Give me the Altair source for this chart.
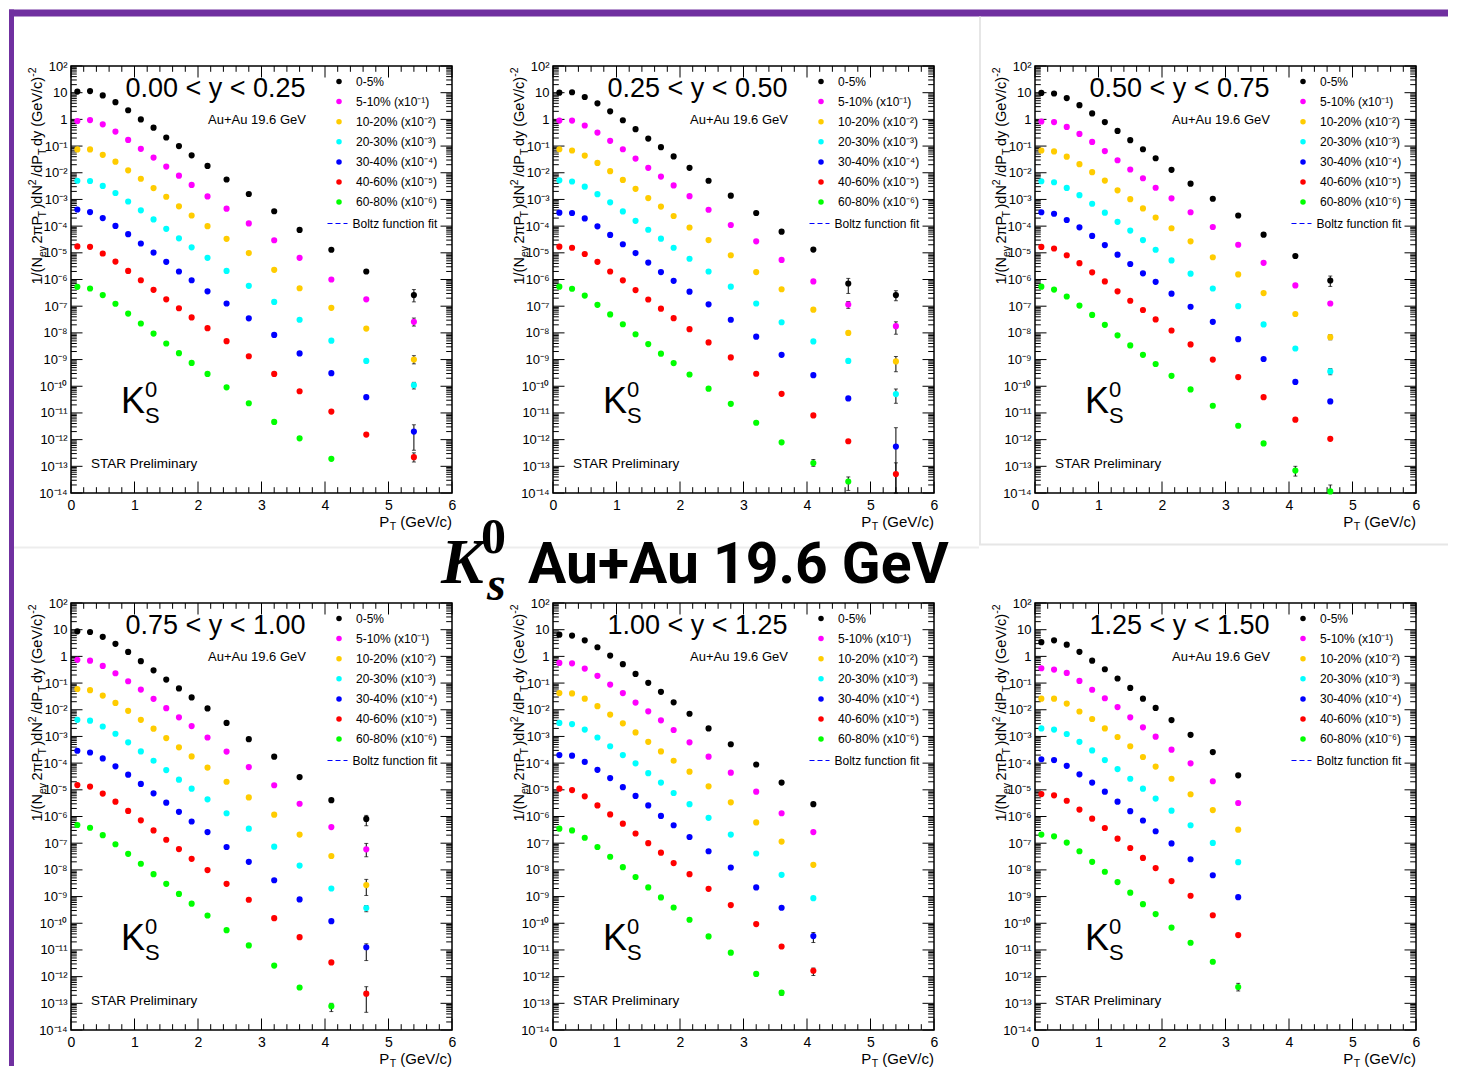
import altair as alt
import pandas as pd

SANS = "Liberation Sans"
SERIF = "Liberation Serif"
TITLE_FONT = "Roboto"
PURPLE = "#7030a0"

# ---------------- data ----------------
PT = [0.1, 0.3, 0.5, 0.7, 0.9, 1.1, 1.3, 1.5, 1.7, 1.9, 2.15, 2.45, 2.8, 3.2, 3.6, 4.1, 4.65, 5.4]
CENT = ["0-5%", "5-10% (x10⁻¹)", "10-20% (x10⁻²)", "20-30% (x10⁻³)",
        "30-40% (x10⁻⁴)", "40-60% (x10⁻⁵)", "60-80% (x10⁻⁶)"]
COLORS = ["#000000", "#ff00ff", "#ffcc00", "#00ffff", "#0000ff", "#ff0000", "#00ff00"]
RAPIDITY = ["0.00 < y < 0.25", "0.25 < y < 0.50", "0.50 < y < 0.75",
            "0.75 < y < 1.00", "1.00 < y < 1.25", "1.25 < y < 1.50"]

# 0.00 < y < 0.25
Y1_0_5 = [11, 11.5, 7.9, 4.4, 2.2, 1.0, 0.49, 0.21, 0.10, 0.045, 0.018, 5.6e-3, 1.6e-3, 3.6e-4, 7.2e-5, 1.3e-5, 2.0e-6, 2.6e-7]
Y1_5_10 = [0.87, 0.94, 0.65, 0.35, 0.17, 0.079, 0.037, 0.017, 7.8e-3, 3.5e-3, 1.3e-3, 4.5e-4, 1.26e-4, 2.95e-5, 6.5e-6, 1.0e-6, 1.8e-7, 2.6e-8]
Y1_10_20 = [0.075, 0.075, 0.047, 0.026, 0.0123, 5.96e-3, 2.66e-3, 1.26e-3, 5.5e-4, 2.5e-4, 1.0e-4, 3.35e-5, 9.8e-6, 2.3e-6, 4.7e-7, 8.7e-8, 1.45e-8, 1.0e-9]
Y1_20_30 = [5.0e-3, 4.9e-3, 3.2e-3, 1.74e-3, 8.4e-4, 3.9e-4, 1.78e-4, 7.9e-5, 3.5e-5, 1.6e-5, 6.5e-6, 2.1e-6, 5.8e-7, 1.45e-7, 3.1e-8, 5.1e-9, 8.9e-10, 1.1e-10]
Y1_30_40 = [4.2e-4, 3.35e-4, 2.0e-4, 1.02e-4, 5.0e-5, 2.24e-5, 1.02e-5, 4.6e-6, 2.0e-6, 9.4e-7, 3.6e-7, 1.26e-7, 3.5e-8, 8.4e-9, 1.7e-9, 3.1e-10, 3.9e-11, 2.0e-12]
Y1_40_60 = [1.74e-5, 1.68e-5, 9.4e-6, 4.7e-6, 2.1e-6, 9.4e-7, 4.1e-7, 1.8e-7, 8.4e-8, 3.8e-8, 1.5e-8, 4.9e-9, 1.33e-9, 2.9e-10, 6.5e-11, 1.12e-11, 1.55e-12, 2.2e-13]
Y1_60_80 = [5.3e-7, 4.6e-7, 2.6e-7, 1.23e-7, 5.3e-8, 2.24e-8, 9.4e-9, 4.0e-9, 1.74e-9, 7.5e-10, 2.9e-10, 9.1e-11, 2.3e-11, 4.6e-12, 1.12e-12, 1.9e-13]

# 0.25 < y < 0.50
Y2_0_5 = [10, 10.4, 6.9, 4.0, 2.0, 0.93, 0.43, 0.19, 0.091, 0.041, 0.0153, 5.0e-3, 1.38e-3, 3.1e-4, 6.2e-5, 1.32e-5, 7.1e-7, 2.6e-7]
Y2_5_10 = [0.9, 0.9, 0.59, 0.32, 0.157, 0.076, 0.034, 0.0153, 7.2e-3, 3.35e-3, 1.33e-3, 4.1e-4, 1.1e-4, 2.7e-5, 5.4e-6, 8.5e-7, 1.15e-7, 1.78e-8]
Y2_10_20 = [0.076, 0.068, 0.044, 0.0234, 0.0115, 5.4e-3, 2.5e-3, 1.12e-3, 5.4e-4, 2.4e-4, 8.9e-5, 3.0e-5, 8.1e-6, 1.9e-6, 4.3e-7, 7.4e-8, 1.0e-8, 8.5e-10]
Y2_20_30 = [5.2e-3, 4.7e-3, 3.0e-3, 1.58e-3, 7.8e-4, 3.55e-4, 1.58e-4, 7.3e-5, 3.4e-5, 1.55e-5, 6.0e-6, 2.0e-6, 5.4e-7, 1.26e-7, 2.5e-8, 4.8e-9, 8.9e-10, 5.1e-11]
Y2_30_40 = [3.2e-4, 3.1e-4, 1.95e-4, 9.8e-5, 4.7e-5, 2.1e-5, 9.8e-6, 4.3e-6, 1.9e-6, 8.9e-7, 3.5e-7, 1.17e-7, 3.1e-8, 7.2e-9, 1.5e-9, 2.6e-10, 3.5e-11, 5.5e-13]
Y2_40_60 = [1.7e-5, 1.55e-5, 9.0e-6, 4.6e-6, 2.0e-6, 9.3e-7, 4.0e-7, 1.78e-7, 8.1e-8, 3.55e-8, 1.38e-8, 4.4e-9, 1.2e-9, 2.95e-10, 5.2e-11, 8.1e-12, 8.7e-13, 5.1e-14]
Y2_60_80 = [5.4e-7, 4.5e-7, 2.5e-7, 1.12e-7, 4.9e-8, 2.1e-8, 8.9e-9, 3.8e-9, 1.66e-9, 7.4e-10, 2.75e-10, 8.1e-11, 2.2e-11, 4.3e-12, 7.9e-13, 1.33e-13, 2.7e-14]

# 0.50 < y < 0.75
Y3_0_5 = [9.8, 9.3, 6.3, 3.4, 1.67, 0.79, 0.37, 0.166, 0.076, 0.035, 0.0129, 3.9e-3, 1.06e-3, 2.5e-4, 4.8e-5, 7.6e-6, 9.2e-7]
Y3_5_10 = [0.83, 0.79, 0.52, 0.286, 0.143, 0.065, 0.0295, 0.0132, 6.2e-3, 2.75e-3, 1.1e-3, 3.3e-4, 9.3e-5, 2.0e-5, 4.2e-6, 6.0e-7, 1.26e-7]
Y3_10_20 = [0.068, 0.063, 0.04, 0.021, 0.0105, 5.1e-3, 2.2e-3, 1.02e-3, 4.6e-4, 2.1e-4, 8.3e-5, 2.7e-5, 6.8e-6, 1.55e-6, 3.1e-7, 5.1e-8, 6.9e-9]
Y3_20_30 = [4.8e-3, 4.4e-3, 2.7e-3, 1.45e-3, 6.9e-4, 3.2e-4, 1.45e-4, 6.8e-5, 3.0e-5, 1.3e-5, 5.2e-6, 1.66e-6, 4.6e-7, 1.0e-7, 2.07e-8, 2.6e-9, 3.6e-10]
Y3_30_40 = [3.3e-4, 2.9e-4, 1.7e-4, 9.0e-5, 4.3e-5, 1.95e-5, 8.5e-6, 3.8e-6, 1.7e-6, 8.2e-7, 2.95e-7, 9.5e-8, 2.6e-8, 5.8e-9, 1.05e-9, 1.45e-10, 2.7e-11]
Y3_40_60 = [1.66e-5, 1.45e-5, 8.1e-6, 4.1e-6, 1.86e-6, 8.5e-7, 3.6e-7, 1.6e-7, 7.2e-8, 3.2e-8, 1.23e-8, 3.7e-9, 1.0e-9, 2.2e-10, 3.9e-11, 5.6e-12, 1.07e-12]
Y3_60_80 = [5.4e-7, 4.2e-7, 2.3e-7, 1.05e-7, 4.7e-8, 2.0e-8, 8.1e-9, 3.4e-9, 1.5e-9, 6.8e-10, 2.45e-10, 7.6e-11, 1.86e-11, 3.3e-12, 7.2e-13, 6.9e-14, 1.15e-14]

# 0.75 < y < 1.00
Y4_0_5 = [8.7, 8.2, 5.4, 2.95, 1.47, 0.66, 0.30, 0.135, 0.063, 0.029, 0.0112, 3.2e-3, 7.9e-4, 1.74e-4, 3.0e-5, 4.1e-6, 8.1e-7]
Y4_5_10 = [0.74, 0.69, 0.44, 0.234, 0.117, 0.057, 0.0257, 0.0115, 5.2e-3, 2.45e-3, 9.1e-4, 2.7e-4, 7.1e-5, 1.48e-5, 3.0e-6, 4.0e-7, 5.9e-8]
Y4_10_20 = [0.06, 0.054, 0.034, 0.018, 9.1e-3, 4.2e-3, 1.95e-3, 8.7e-4, 3.9e-4, 1.78e-4, 6.8e-5, 2.0e-5, 5.2e-6, 1.17e-6, 2.1e-7, 3.3e-8, 2.7e-9]
Y4_20_30 = [4.2e-3, 3.9e-3, 2.35e-3, 1.26e-3, 6.0e-4, 2.75e-4, 1.23e-4, 5.5e-5, 2.4e-5, 1.1e-5, 4.4e-6, 1.32e-6, 3.5e-7, 7.4e-8, 1.45e-8, 2.0e-9, 3.7e-10]
Y4_30_40 = [2.9e-4, 2.5e-4, 1.5e-4, 7.6e-5, 3.7e-5, 1.66e-5, 7.4e-6, 3.3e-6, 1.5e-6, 6.5e-7, 2.6e-7, 7.2e-8, 2.0e-8, 4.1e-9, 7.8e-10, 1.2e-10, 1.26e-11]
Y4_40_60 = [1.5e-5, 1.32e-5, 7.2e-6, 3.6e-6, 1.62e-6, 7.2e-7, 3.0e-7, 1.35e-7, 6.0e-8, 2.6e-8, 9.8e-9, 3.0e-9, 7.6e-10, 1.55e-10, 3.0e-11, 3.4e-12, 2.3e-13]
Y4_60_80 = [4.8e-7, 3.8e-7, 2.0e-7, 9.1e-8, 4.0e-8, 1.7e-8, 6.9e-9, 3.0e-9, 1.26e-9, 5.4e-10, 1.95e-10, 5.5e-11, 1.48e-11, 2.6e-12, 3.9e-13, 7.8e-14]

# 1.00 < y < 1.25
Y5_0_5 = [6.5, 6.0, 4.0, 2.2, 1.07, 0.51, 0.22, 0.102, 0.047, 0.019, 7.1e-3, 2.0e-3, 5.1e-4, 8.9e-5, 1.86e-5, 2.9e-6]
Y5_5_10 = [0.57, 0.55, 0.35, 0.186, 0.088, 0.042, 0.0186, 8.7e-3, 4.0e-3, 1.74e-3, 6.0e-4, 1.74e-4, 4.4e-5, 8.5e-6, 1.32e-6, 2.6e-7]
Y5_10_20 = [0.042, 0.041, 0.026, 0.0136, 6.6e-3, 3.1e-3, 1.41e-3, 6.3e-4, 2.75e-4, 1.23e-4, 4.8e-5, 1.35e-5, 3.4e-6, 6.0e-7, 1.15e-7, 1.55e-8]
Y5_20_30 = [3.2e-3, 2.9e-3, 1.8e-3, 9.1e-4, 4.3e-4, 2.0e-4, 9.8e-5, 4.2e-5, 1.86e-5, 7.6e-6, 2.9e-6, 8.9e-7, 2.1e-7, 4.1e-8, 6.5e-9, 8.7e-10]
Y5_30_40 = [2.0e-4, 1.9e-4, 1.12e-4, 5.6e-5, 2.75e-5, 1.26e-5, 5.9e-6, 2.6e-6, 1.05e-6, 4.7e-7, 1.7e-7, 5.0e-8, 1.23e-8, 2.2e-9, 3.8e-10, 3.3e-11]
Y5_40_60 = [1.1e-5, 9.8e-6, 5.7e-6, 2.6e-6, 1.2e-6, 5.4e-7, 2.3e-7, 1.0e-7, 4.4e-8, 1.8e-8, 6.9e-9, 1.95e-9, 4.8e-10, 9.3e-11, 1.35e-11, 1.66e-12]
Y5_60_80 = [3.5e-7, 3.0e-7, 1.6e-7, 7.2e-8, 3.1e-8, 1.26e-8, 5.4e-9, 2.2e-9, 9.3e-10, 3.9e-10, 1.35e-10, 3.2e-11, 7.9e-12, 1.26e-12, 2.5e-13]

# 1.25 < y < 1.50
Y6_0_5 = [3.4, 4.0, 2.75, 1.48, 0.69, 0.33, 0.148, 0.066, 0.026, 0.0117, 4.1e-3, 1.15e-3, 2.6e-4, 3.5e-5]
Y6_5_10 = [0.36, 0.32, 0.24, 0.12, 0.056, 0.027, 0.0126, 5.2e-3, 2.2e-3, 9.8e-4, 3.2e-4, 9.8e-5, 2.1e-5, 3.2e-6]
Y6_10_20 = [0.026, 0.026, 0.017, 8.6e-3, 4.5e-3, 2.0e-3, 9.5e-4, 4.3e-4, 1.7e-4, 7.4e-5, 2.6e-5, 6.8e-6, 1.74e-6, 3.2e-7]
Y6_20_30 = [2.0e-3, 1.8e-3, 1.23e-3, 6.3e-4, 3.0e-4, 1.3e-4, 6.0e-5, 2.6e-5, 1.1e-5, 4.7e-6, 1.66e-6, 4.7e-7, 1.02e-7, 1.95e-8]
Y6_30_40 = [1.4e-4, 1.3e-4, 7.9e-5, 3.8e-5, 1.86e-5, 8.5e-6, 3.6e-6, 1.58e-6, 7.1e-7, 2.8e-7, 9.8e-8, 2.5e-8, 6.3e-9, 9.5e-10]
Y6_40_60 = [6.9e-6, 6.2e-6, 3.9e-6, 1.82e-6, 8.3e-7, 3.7e-7, 1.48e-7, 6.6e-8, 2.8e-8, 1.17e-8, 3.8e-9, 1.07e-9, 2.0e-10, 3.6e-11]
Y6_60_80 = [2.1e-7, 1.8e-7, 1.05e-7, 5.0e-8, 2.0e-8, 8.5e-9, 3.5e-9, 1.4e-9, 5.2e-10, 2.2e-10, 6.9e-11, 1.86e-11, 3.6e-12, 4.1e-13]

# visible error bars: (pT, low, high)
ERR1 = [(5.4, 1.45e-7, 4.2e-7), (5.4, 1.8e-8, 3.6e-8), (5.4, 6.9e-10, 1.4e-9), (5.4, 7.9e-11, 1.4e-10),
        (5.4, 4.0e-13, 3.6e-12), (5.4, 1.45e-13, 3.2e-13)]
ERR2 = [(4.65, 3.0e-7, 1.1e-6), (5.4, 1.6e-7, 3.8e-7), (4.65, 8.3e-8, 1.5e-7), (5.4, 8.9e-9, 2.6e-8),
        (5.4, 3.5e-10, 1.3e-9), (5.4, 2.3e-11, 7.9e-11), (5.4, 1e-14, 2.8e-12), (5.4, 1e-14, 1.35e-13),
        (4.1, 1.0e-13, 1.8e-13), (4.65, 1.25e-14, 4e-14)]
ERR3 = [(4.65, 5.5e-7, 1.35e-6), (4.65, 5.5e-9, 8.5e-9), (4.65, 2.7e-10, 4.6e-10), (4.1, 4.3e-14, 1e-13),
        (4.65, 1e-14, 2e-14)]
ERR4 = [(4.65, 4.5e-7, 1.1e-6), (4.65, 3.1e-8, 9.8e-8), (4.65, 1.1e-9, 4.4e-9), (4.65, 2.7e-10, 4.6e-10),
        (4.65, 4e-12, 1.7e-11), (4.65, 4.6e-14, 4.2e-13), (4.1, 4.9e-14, 1e-13)]
ERR5 = [(4.1, 1.9e-11, 4.5e-11), (4.1, 1.1e-12, 2.1e-12), (3.6, 2.0e-13, 3.0e-13)]
ERR6 = [(3.2, 2.9e-13, 5.6e-13)]

PANELS = [
    [Y1_0_5, Y1_5_10, Y1_10_20, Y1_20_30, Y1_30_40, Y1_40_60, Y1_60_80],
    [Y2_0_5, Y2_5_10, Y2_10_20, Y2_20_30, Y2_30_40, Y2_40_60, Y2_60_80],
    [Y3_0_5, Y3_5_10, Y3_10_20, Y3_20_30, Y3_30_40, Y3_40_60, Y3_60_80],
    [Y4_0_5, Y4_5_10, Y4_10_20, Y4_20_30, Y4_30_40, Y4_40_60, Y4_60_80],
    [Y5_0_5, Y5_5_10, Y5_10_20, Y5_20_30, Y5_30_40, Y5_40_60, Y5_60_80],
    [Y6_0_5, Y6_5_10, Y6_10_20, Y6_20_30, Y6_30_40, Y6_40_60, Y6_60_80],
]
ERRS = [ERR1, ERR2, ERR3, ERR4, ERR5, ERR6]

# ---------------- layout / styling ----------------
PW, PH = 381, 427
XSC = alt.Scale(domain=[0, 6], nice=False, zero=False)
YSC = alt.Scale(type="log", domain=[1e-14, 100], nice=False)

SUP = str.maketrans("-0123456789", "⁻⁰¹²³⁴⁵⁶⁷⁸⁹")
YLAB = []
for k in range(-14, 3):
    YLAB.append("1" if k == 0 else ("10" if k == 1 else "10" + str(k).translate(SUP)))
LABEL_EXPR = "[" + ",".join("'%s'" % s for s in YLAB) + "][round(log(datum.value)/LN10)+14]"

X_AXIS = alt.Axis(values=list(range(7)), format="d", ticks=False, tickSize=0, domain=False,
                  grid=False, title=None, labelFont=SANS, labelFontSize=14, labelPadding=5,
                  labelColor="black", labelFlush=False, labelOverlap=False)
Y_AXIS = alt.Axis(values=[10.0 ** k for k in range(-14, 3)], labelExpr=LABEL_EXPR, ticks=False,
                  tickSize=0, domain=False, grid=False, title=None, labelFont=SANS,
                  labelFontSize=13, labelPadding=4, labelColor="black", labelFlush=False,
                  labelOverlap=False)

ONE = pd.DataFrame({"k": [0]})
X_MAJ = pd.DataFrame({"v": list(range(7))})
X_MIN = pd.DataFrame({"v": [round(0.2 * k, 1) for k in range(31) if k % 5]})
Y_MAJ = pd.DataFrame({"v": [10.0 ** k for k in range(-14, 3)]})
Y_MIN = pd.DataFrame({"v": [m * 10.0 ** k for k in range(-14, 2) for m in range(2, 10)]})

AW = {'1': 556, '/': 278, '(': 333, 'N': 722, 'e': 556, 'v': 500, '2': 556, 'π': 578, 'P': 667,
      'T': 611, ')': 333, 'd': 556, 'y': 500, ' ': 278, 'G': 778, 'V': 667, 'c': 500, '-': 333}


def tw(s, size):
    return sum(AW[c] for c in s) * size / 1000.0


def xenc(field):
    return alt.X(field, scale=XSC, axis=X_AXIS)


def yenc(field):
    return alt.Y(field, scale=YSC, axis=Y_AXIS)


def txt(s, x, y, size, align="left", angle=0, font=SANS, weight="normal", style="normal", color="black"):
    return alt.Chart(ONE).mark_text(
        text=s, align=align, baseline="alphabetic", angle=angle, font=font,
        fontSize=size, fontWeight=weight, fontStyle=style, color=color
    ).encode(x=alt.value(x), y=alt.value(y))


def box(x, x2, y, y2, color):
    return alt.Chart(ONE).mark_rect(color=color, strokeWidth=0).encode(
        x=alt.value(x), x2=alt.value(x2), y=alt.value(y), y2=alt.value(y2))


def tick_layers():
    out = []
    for df, ln in ((X_MAJ, 11.5), (X_MIN, 5.8)):
        out.append(alt.Chart(df).mark_rule(color="black", strokeWidth=1).encode(
            x=xenc("v:Q"), y=alt.value(PH), y2=alt.value(PH - ln)))
        out.append(alt.Chart(df).mark_rule(color="black", strokeWidth=1).encode(
            x=xenc("v:Q"), y=alt.value(0), y2=alt.value(ln)))
    for df, ln in ((Y_MAJ, 11.5), (Y_MIN, 5.8)):
        out.append(alt.Chart(df).mark_rule(color="black", strokeWidth=1).encode(
            y=yenc("v:Q"), x=alt.value(0), x2=alt.value(ln)))
        out.append(alt.Chart(df).mark_rule(color="black", strokeWidth=1).encode(
            y=yenc("v:Q"), x=alt.value(PW), x2=alt.value(PW - ln)))
    return out


YT = [("1/(N", "m"), ("ev", "sub"), ("2πP", "m"), ("T", "sub"), (")dN", "m"), ("2", "sup"),
      ("/dP", "m"), ("T", "sub"), ("dy (GeV/c)", "m"), ("-2", "sup")]


def ytitle_layers():
    out = []
    y = 218.5
    xb = -29
    for s, kind in YT:
        size = 14.5 if kind == "m" else 10.5
        x = xb + (4 if kind == "sub" else (-6 if kind == "sup" else 0))
        out.append(txt(s, x, y, size, angle=270))
        y -= tw(s, size) + (0 if kind == "m" else 2.5)
    return out


def xtitle_layers():
    w1 = tw(" (GeV/c)", 15)
    wt = tw("T", 10.5)
    return [
        txt("P", PW - w1 - wt - 10.5, PH + 33.5, 15),
        txt("T", PW - w1 - wt, PH + 37.0, 10.5),
        txt(" (GeV/c)", PW, PH + 33.5, 15, align="right"),
    ]


def panel(i):
    series = PANELS[i]
    rows = [{"pt": p, "val": v, "cent": CENT[c]}
            for c, vals in enumerate(series) for p, v in zip(PT, vals)]
    df = pd.DataFrame(rows)
    edf = pd.DataFrame([{"pt": p, "lo": lo, "hi": hi} for p, lo, hi in ERRS[i]])
    fit = pd.DataFrame({"pt": [0.5], "val": [1e-20], "fit": ["Boltz function fit"]})

    color_leg = alt.Legend(orient="none", legendX=262, legendY=9.5, title=None, symbolType="circle",
                           symbolSize=30, symbolStrokeWidth=0, labelFont=SANS, labelFontSize=12,
                           labelColor="black", labelOffset=11, rowPadding=8.1, padding=0)
    fit_leg = alt.Legend(orient="none", legendX=255.5, legendY=146.5, title=None, symbolType="stroke",
                         symbolSize=400, symbolStrokeColor="blue", symbolStrokeWidth=1.2,
                         labelFont=SANS, labelFontSize=12, labelColor="black", labelOffset=4,
                         padding=0)

    err = alt.Chart(edf).mark_rule(color="black", strokeWidth=1).encode(
        x=xenc("pt:Q"), y=yenc("lo:Q"), y2="hi:Q")
    caps_lo = alt.Chart(edf).mark_tick(color="black", orient="horizontal", size=4, thickness=1).encode(
        x=xenc("pt:Q"), y=yenc("lo:Q"))
    caps_hi = alt.Chart(edf).mark_tick(color="black", orient="horizontal", size=4, thickness=1).encode(
        x=xenc("pt:Q"), y=yenc("hi:Q"))
    pts = alt.Chart(df).mark_circle(size=38, opacity=1).encode(
        x=xenc("pt:Q"),
        y=yenc("val:Q"),
        color=alt.Color("cent:N", scale=alt.Scale(domain=CENT, range=COLORS), legend=color_leg),
    )
    fitl = alt.Chart(fit).mark_line(color="blue", clip=True, strokeWidth=1.2).encode(
        x=xenc("pt:Q"),
        y=yenc("val:Q"),
        strokeDash=alt.StrokeDash("fit:N", scale=alt.Scale(domain=["Boltz function fit"], range=[[5, 3]]),
                                  legend=fit_leg),
    )

    layers = []
    if i == 0:
        # page frame (purple) and faint separators, relative to this panel's plot origin
        layers += [
            box(-62, -57, -56.5, 1000, PURPLE),
            box(-62, 1377, -56.5, -49.5, PURPLE),
            box(908, 910, -49.5, 479, "#e6e6e6"),
            box(908, 1377, 477.5, 479.5, "#e6e6e6"),
            box(-57, 908, 480.5, 482.5, "#ededed"),
        ]
    layers += tick_layers()
    layers += [err, caps_lo, caps_hi, pts, fitl]
    layers += [
        txt(RAPIDITY[i], 144.5, 31.3, 27, align="center"),
        txt("Au+Au 19.6 GeV", 137, 58.3, 13),
        txt("STAR Preliminary", 20, 401.5, 13.5),
        txt("K", 50, 347.3, 36),
        txt("0", 74, 331, 22),
        txt("S", 74, 356.5, 22),
    ]
    layers += ytitle_layers()
    layers += xtitle_layers()
    if i == 1:
        layers += [
            txt("K", -112, 517, 64, font=SERIF, weight="bold", style="italic"),
            txt("0", -72, 487, 50, font=SERIF, weight="bold"),
            txt("s", -66, 534, 48, font=SERIF, weight="bold", style="italic"),
            txt("Au+Au 19.6 GeV", -25, 517, 57, font=TITLE_FONT, weight="bold"),
        ]
    return alt.layer(*layers).properties(width=PW, height=PH)


chart = alt.concat(
    *[panel(i) for i in range(6)],
    columns=3,
    spacing={"row": 110, "column": 101},
    bounds="flush",
).resolve_scale(
    x="independent", y="independent", color="independent", strokeDash="independent"
).resolve_legend(
    color="independent", strokeDash="independent"
).properties(
    padding=0, background="white"
).configure(
    font=SANS
).configure_view(
    stroke="black", strokeWidth=1.5
)

chart.save("out.html", embed_options={"renderer": "svg", "actions": False})
